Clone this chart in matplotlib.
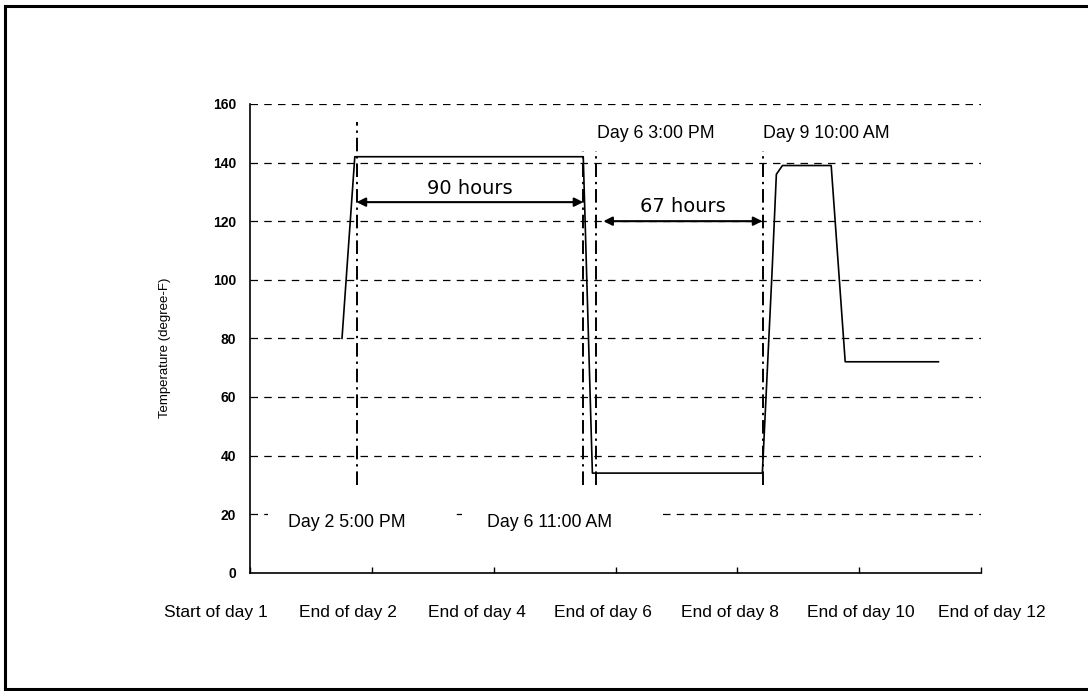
import matplotlib
matplotlib.use("Agg")
import matplotlib.pyplot as plt
from matplotlib.patches import Rectangle
from matplotlib.lines import Line2D

plt.rcParams['font.family'] = ['Liberation Sans', 'DejaVu Sans']

# temperature record (x in days from start of day 1)
time_days = [1.51, 1.72, 5.47, 5.62, 8.41, 8.57, 8.64, 8.74, 9.54, 9.77, 11.30]
temp_f = [80, 142, 142, 34, 34, 103, 136, 139, 139, 72, 72]

# dash-dot event markers
event_days = [1.75, 5.46, 5.68, 8.42]
event_top = [154, 144, 144, 144]
event_bottom = [30, 30, 30, 30]

event_labels = ["Day 2 5:00 PM", "Day 6 11:00 AM", "Day 6 3:00 PM", "Day 9 10:00 AM"]
event_label_x = [0.62, 3.89, 5.70, 8.42]
event_label_y = [17, 17, 150, 150]

# duration arrows
span_labels = ["90 hours", "67 hours"]
span_start = [1.75, 5.80]
span_end = [5.47, 8.41]
span_y = [126.5, 120]
span_text_y = [131, 125]

x_ticks = [0, 2, 4, 6, 8, 10, 12]
x_tick_labels = ["Start of day 1", "End of day 2", "End of day 4", "End of day 6",
                 "End of day 8", "End of day 10", "End of day 12"]
x_label_pos = [-0.56, 1.61, 3.73, 5.80, 7.88, 10.02, 12.18]
y_ticks = [0, 20, 40, 60, 80, 100, 120, 140, 160]

fig = plt.figure(figsize=(10.88, 6.91), dpi=100)
ax = fig.add_axes([0.2298, 0.1712, 0.6719, 0.6783])

ax.set_xlim(0, 12)
ax.set_ylim(0, 160)

# dashed horizontal grid
for yv in y_ticks[1:]:
    ax.axhline(yv, color='black', lw=0.9, linestyle=(0, (6, 5)), zorder=1)

# white boxes behind the lower labels hide part of the 20 line
ax.add_patch(Rectangle((0.30, 12), 3.07, 12, facecolor='white', edgecolor='none', zorder=2))
ax.add_patch(Rectangle((3.48, 12), 3.25, 12, facecolor='white', edgecolor='none', zorder=2))

ax.plot(time_days, temp_f, color='black', lw=1.2, zorder=4)

for xd, top, bot in zip(event_days, event_top, event_bottom):
    ax.plot([xd, xd], [bot, top], color='black', lw=1.4,
            linestyle=(0, (7, 2.5, 1.2, 2.5)), zorder=3)

for txt, xl, yl in zip(event_labels, event_label_x, event_label_y):
    ax.text(xl, yl, txt, fontsize=12.8, ha='left', va='center', zorder=5)

for txt, x0, x1, ya, yt in zip(span_labels, span_start, span_end, span_y, span_text_y):
    ax.annotate('', xy=(x0, ya), xytext=(x1, ya),
                arrowprops=dict(arrowstyle='<|-|>', color='black', lw=1.5,
                                mutation_scale=13, shrinkA=0, shrinkB=0), zorder=5)
    ax.text((x0 + x1) / 2, yt, txt, fontsize=14, ha='center', va='center',
            family=['DejaVu Sans'], zorder=5)

ax.spines['top'].set_visible(False)
ax.spines['right'].set_visible(False)
ax.spines['left'].set_linewidth(1.2)
ax.spines['bottom'].set_linewidth(1.2)

ax.set_xticks(x_ticks)
ax.set_xticklabels([])
ax.tick_params(axis='x', direction='in', length=4, width=1)
for lab, xp in zip(x_tick_labels, x_label_pos):
    ax.text(xp, -0.084, lab, transform=ax.get_xaxis_transform(), fontsize=12.5,
            ha='center', va='center')

ax.set_yticks(y_ticks)
ax.set_yticklabels([str(v) for v in y_ticks], fontsize=10, fontweight='bold')
ax.tick_params(axis='y', length=0, pad=10)

ax.text(-0.116, 0.48, "Temperature (degree-F)", transform=ax.transAxes, rotation=90,
        fontsize=9.5, ha='center', va='center')

# outer frame
fig.add_artist(Line2D([0.005, 0.005], [0.003, 0.992], color='black', lw=2.2))
fig.add_artist(Line2D([0.005, 0.998], [0.992, 0.992], color='black', lw=2.2))
fig.add_artist(Line2D([0.005, 0.998], [0.003, 0.003], color='black', lw=2.2))

fig.savefig("out.png", dpi=100)
